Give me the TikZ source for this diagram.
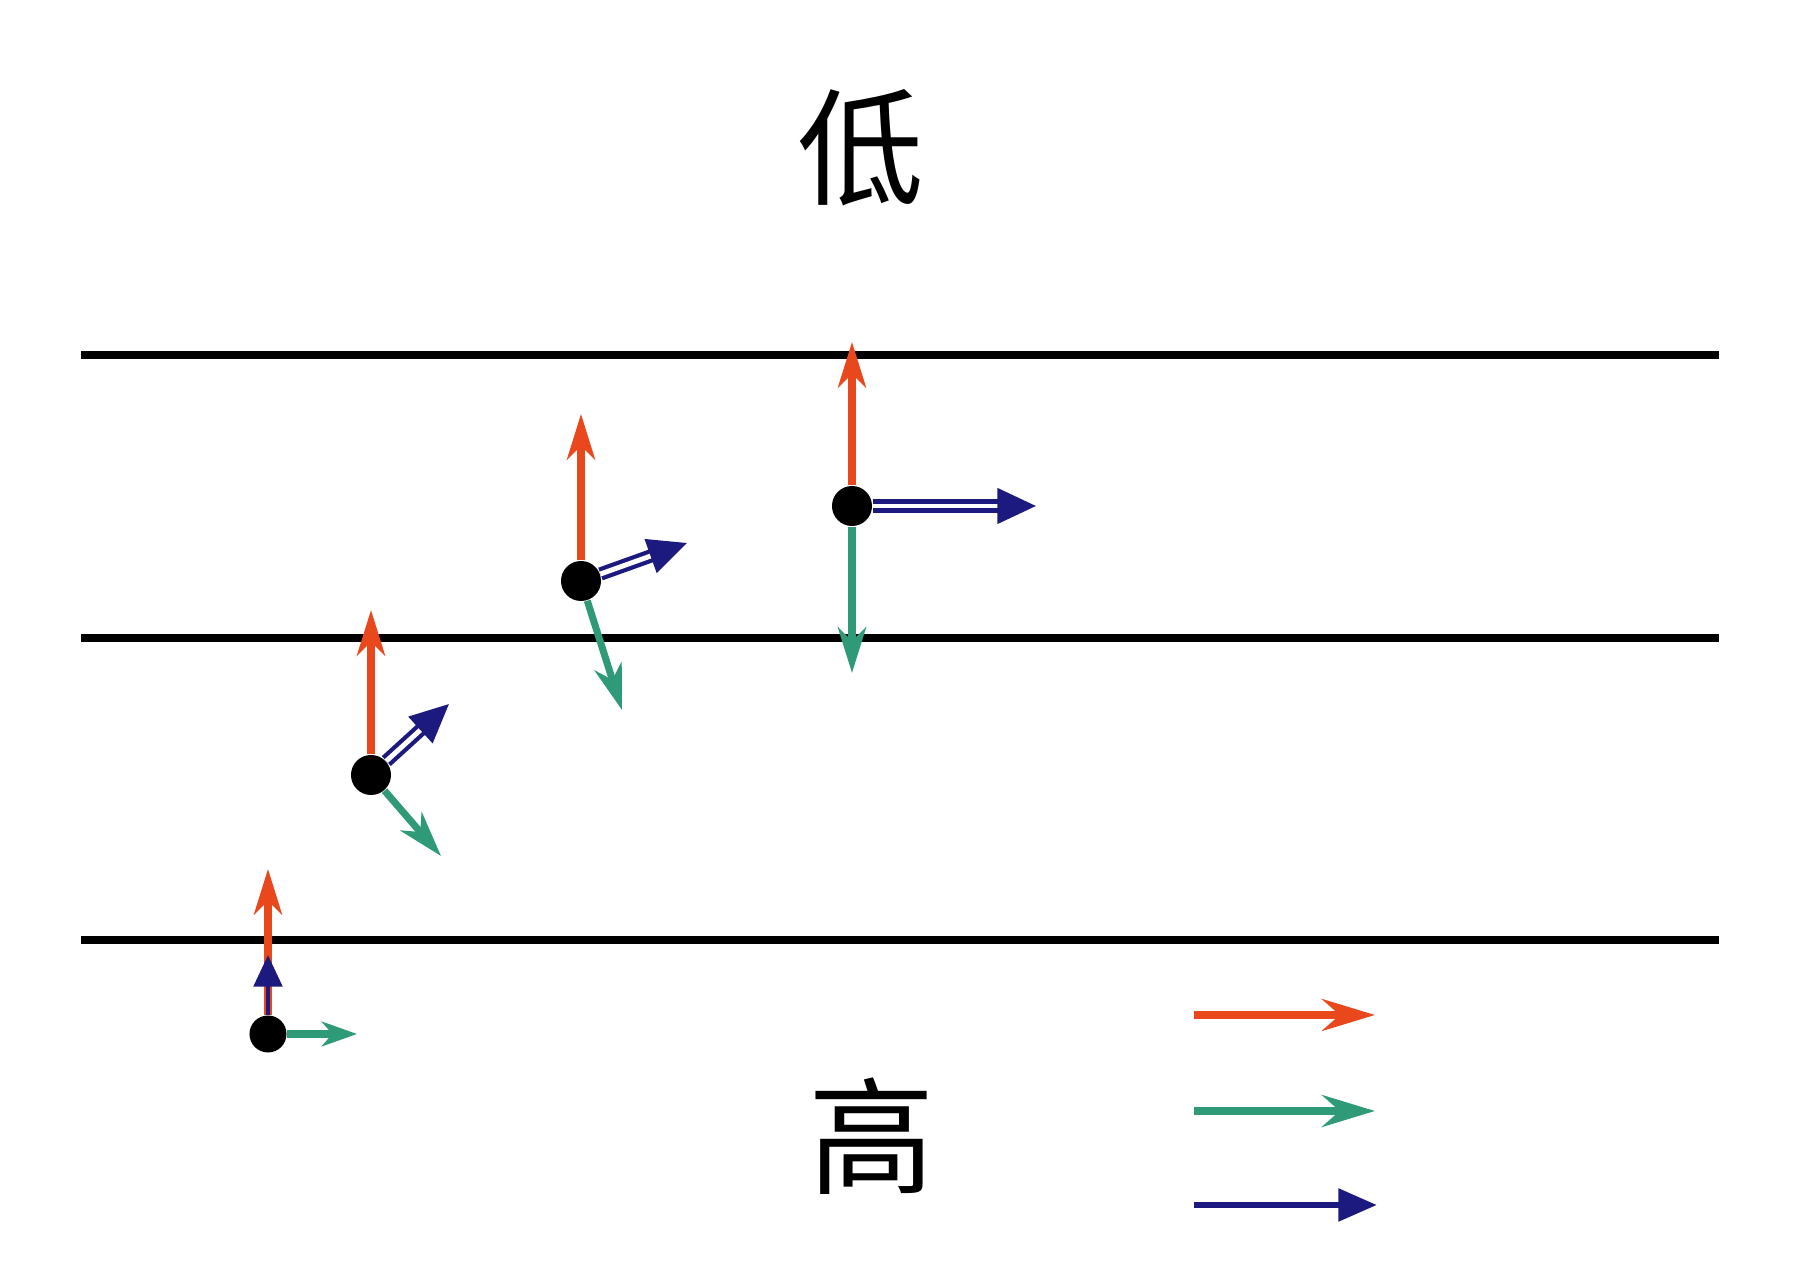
\documentclass[tikz,border=0pt]{standalone}
\usepackage{fontspec}
\newfontfamily\cjk{Noto Sans CJK SC}
\usetikzlibrary{arrows.meta}
\definecolor{vred}{HTML}{E8481C}
\definecolor{vgreen}{HTML}{2E9A78}
\definecolor{vblue}{HTML}{1C1A7E}
\tikzset{
	particle/.style={circle, fill=black, minimum size=0.4cm, inner sep=0pt},
	small/.style={circle, fill=black, minimum size=0.37cm, inner sep=0pt},
	layer/.style={line width=2.1pt, black},
	label/.style={font=\cjk\fontsize{36}{42}\selectfont, inner sep=0pt},
	% vectors at the particles
	redvec/.style={vred, line width=2pt, -{Stealth[length=13pt, width=8pt, inset=4pt]}},
	greenvec/.style={vgreen, line width=2pt, -{Stealth[length=13pt, width=8pt, inset=4pt]}},
	bluevec/.style={vblue, line width=1.2pt, double=white, double distance=1.4pt, -{Triangle[length=11pt, width=10pt]}},
	% legend arrows
	keyvec/.style={line width=2.4pt},
}
\begin{document}
\begin{tikzpicture}[x=0.01cm, y=-0.01cm]
	\useasboundingbox (0,0) rectangle (1796,1280);
	
	\node (low) [label] at (861,148) {低};
	\node (high) [label] at (872,1136) {高};
	
	\foreach \y [count=\i] in {355,638,940} {
		\coordinate (L\i) at (81,\y);
		\coordinate (R\i) at (1719,\y);
		\draw[layer] (L\i) -- (R\i);
	}
	
	% particles
	\node (p1) [small] at (268,1034) {};
	\node (p2) [particle] at (371,775) {};
	\node (p3) [particle] at (581,581) {};
	\node (p4) [particle] at (852,506) {};
	
	\coordinate (r1) at (268,869);
	\coordinate (b1) at (268,955);
	\coordinate (g1) at (357,1034);
	\coordinate (r2) at (371,610);
	\coordinate (b2) at (449,704);
	\coordinate (g2) at (441,856);
	\coordinate (r3) at (581,414);
	\coordinate (b3) at (687,543);
	\coordinate (g3) at (622,710);
	\coordinate (r4) at (852,342);
	\coordinate (b4) at (1036,506);
	\coordinate (g4) at (852,673);
	
	\draw[redvec] (p1) -- (r1);
	\draw[vblue, line width=1.4pt, -{Triangle[length=9pt, width=8pt]}] (p1) -- (b1);
	\draw[greenvec, -{Stealth[length=10pt, width=7pt, inset=3pt]}] (p1) -- (g1);
	
	\foreach \k in {2,3,4} {
		\draw[redvec] (p\k) -- (r\k);
		\draw[greenvec] (p\k) -- (g\k);
		\draw[bluevec] (p\k) -- (b\k);
	}
	
	% legend
	\coordinate (kr0) at (1194,1015);
	\coordinate (kr1) at (1375,1015);
	\coordinate (kg0) at (1194,1111);
	\coordinate (kg1) at (1375,1111);
	\coordinate (kb0) at (1194,1205);
	\coordinate (kb1) at (1377,1205);
	\draw[keyvec, vred, -{Stealth[length=15pt, width=9pt, inset=5pt]}] (kr0) -- (kr1);
	\draw[keyvec, vgreen, -{Stealth[length=15pt, width=9pt, inset=5pt]}] (kg0) -- (kg1);
	\draw[keyvec, vblue, line width=1.9pt, -{Triangle[length=11pt, width=9pt]}] (kb0) -- (kb1);
\end{tikzpicture}
\end{document}
